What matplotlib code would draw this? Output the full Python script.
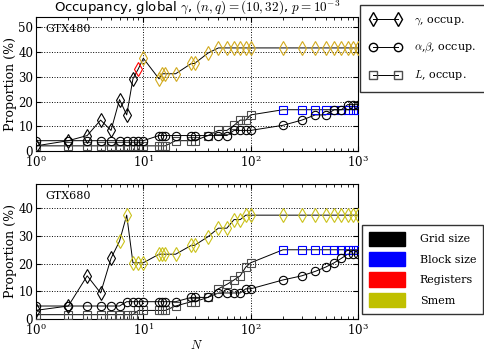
import numpy as np
import matplotlib
matplotlib.use('Agg')
import matplotlib.pyplot as plt
from matplotlib.lines import Line2D
from matplotlib.patches import Patch

plt.rcParams['font.family'] = 'DejaVu Serif'
plt.rcParams['mathtext.fontset'] = 'cm'
plt.rcParams['xtick.direction'] = 'in'
plt.rcParams['ytick.direction'] = 'in'

# problem sizes
N = [1, 2, 3, 4, 5, 6, 7, 8, 9, 10, 14, 15, 16, 20, 28, 30, 40, 50, 60, 70,
     80, 90, 100, 200, 300, 400, 500, 600, 700, 800, 900, 1000]

# GTX480 (percent occupancy)
g480_gamma = [2.08, 4.17, 6.25, 12.5, 8.33, 20.8, 14.6, 29.2, 33.3, 37.5,
              29.2, 31.25, 31.25, 31.25, 35.4, 35.4, 39.6, 41.7, 41.7, 41.7,
              41.7, 41.7, 41.7, 41.7, 41.7, 41.7, 41.7, 41.7, 41.7, 41.7, 41.7, 41.7]
g480_ab = [4.17, 4.17, 4.17, 4.17, 4.17, 4.17, 4.17, 4.17, 4.17, 4.17,
           6.25, 6.25, 6.25, 6.25, 6.25, 6.25, 6.25, 6.25, 6.25, 8.33,
           8.33, 8.33, 8.33, 10.4, 12.5, 14.6, 14.6, 16.7, 16.7, 18.75, 18.75, 18.75]
g480_L = [2.08, 2.08, 2.08, 2.08, 2.08, 2.08, 2.08, 2.08, 2.08, 2.08,
          2.08, 2.08, 2.08, 4.17, 4.17, 4.17, 6.25, 8.33, 8.33, 10.4,
          12.5, 12.5, 14.6, 16.7, 16.7, 16.7, 16.7, 16.7, 16.7, 16.7, 16.7, 16.7]
# limiting factor per point: k grid, b block, r registers, y smem
g480_gamma_lim = 'kkkkkkkkryyyyyyyyyyyyyyyyyyyyyyy'
g480_ab_lim = 'k' * 32
g480_L_lim = 'k' * 23 + 'b' * 9

# GTX680
g680_gamma = [3.125, 4.69, 15.6, 9.4, 21.9, 28.1, 37.5, 20.3, 20.3, 20.3,
              23.4, 23.4, 23.4, 23.4, 26.6, 26.6, 29.7, 32.8, 32.8, 35.9,
              35.9, 37.5, 37.5, 37.5, 37.5, 37.5, 37.5, 37.5, 37.5, 37.5, 37.5, 37.5]
g680_ab = [4.69, 4.69, 4.69, 4.69, 4.69, 4.69, 6.25, 6.25, 6.25, 6.25,
           6.25, 6.25, 6.25, 6.25, 7.8, 7.8, 7.8, 9.4, 9.4, 9.4,
           9.4, 10.9, 10.9, 14.1, 15.6, 17.2, 18.75, 20.3, 21.9, 23.4, 23.4, 23.4]
g680_L = [1.56, 1.56, 1.56, 1.56, 1.56, 1.56, 1.56, 1.56, 3.1, 3.1,
          3.1, 3.1, 3.1, 4.69, 6.25, 6.25, 7.8, 10.9, 12.5, 14.1,
          15.6, 18.75, 20.3, 25.0, 25.0, 25.0, 25.0, 25.0, 25.0, 25.0, 25.0, 25.0]
g680_gamma_lim = 'kkkkkyyyyyyyyyyyyyyyyyyyyyyyyyyy'
g680_ab_lim = 'k' * 32
g680_L_lim = 'k' * 23 + 'b' * 9

colors480 = {'k': 'black', 'b': 'blue', 'r': 'red', 'y': '#d2aa1e'}
colors680 = {'k': 'black', 'b': 'blue', 'r': 'red', 'y': '#cbc21a'}


def draw(ax, gamma, ab, L, lims, cmap, label, yticks):
    for vals, lim, mk, ms in [(L, lims[2], 's', 6), (ab, lims[1], 'o', 6), (gamma, lims[0], 'd', 7)]:
        ax.plot(N, vals, '-', color='k', lw=0.7, zorder=2)
        for c in 'kbry':
            xs = [n for n, l in zip(N, lim) if l == c]
            ys = [v for v, l in zip(vals, lim) if l == c]
            if not xs:
                continue
            ec = cmap[c]
            if mk == 's' and c == 'k':
                ec = '0.3'
            ax.plot(xs, ys, ls='none', marker=mk, ms=ms, mfc='none', mec=ec, mew=0.8, zorder=3)
    ax.set_xscale('log')
    ax.set_xlim(1, 1000)
    ax.set_ylim(0, 1.3 * max(gamma))
    ax.set_yticks(yticks)
    ax.grid(True, which='major', ls=':', color='k', lw=0.7)
    ax.tick_params(which='both', top=True, right=True, labelsize=8.5, pad=2)
    ax.set_ylabel('Proportion (%)', fontsize=9, labelpad=1)
    ax.text(0.03, 0.95, label, transform=ax.transAxes, va='top', ha='left', fontsize=8)


fig = plt.figure(figsize=(4.85, 3.51), dpi=100)
ax1 = fig.add_axes([36 / 485, 1 - 151 / 351, 322 / 485, 134 / 351])
ax2 = fig.add_axes([36 / 485, 1 - 319 / 351, 322 / 485, 135 / 351])

draw(ax1, g480_gamma, g480_ab, g480_L, (g480_gamma_lim, g480_ab_lim, g480_L_lim),
     colors480, 'GTX480', [0, 10, 20, 30, 40, 50])
draw(ax2, g680_gamma, g680_ab, g680_L, (g680_gamma_lim, g680_ab_lim, g680_L_lim),
     colors680, 'GTX680', [0, 10, 20, 30, 40])

ax1.set_title(r'Occupancy, global $\gamma$, $(n,q)=(10,32)$, $p=10^{-3}$',
              fontsize=9.5, family='DejaVu Sans', pad=2)
ax2.set_xlabel(r'$N$', fontsize=9, labelpad=1)

h1 = [Line2D([], [], color='k', lw=0.7, marker='d', ms=7, mfc='none', mec='k'),
      Line2D([], [], color='k', lw=0.7, marker='o', ms=6, mfc='none', mec='k'),
      Line2D([], [], color='k', lw=0.7, marker='s', ms=6, mfc='none', mec='0.3')]
fig.legend(h1, [r'$\gamma$, occup.', r'$\alpha$,$\beta$, occup.', r'$L$, occup.'],
           loc='upper left', bbox_to_anchor=(360 / 485, 1 - 5 / 351), fontsize=8,
           fancybox=False, edgecolor='k', handlelength=2.8, borderpad=0.9,
           labelspacing=1.2, handletextpad=1.2, numpoints=2, borderaxespad=0)

h2 = [Patch(color='black'), Patch(color='blue'), Patch(color='red'), Patch(color='#c0c000')]
fig.legend(h2, ['Grid size', 'Block size', 'Registers', 'Smem'],
           loc='upper left', bbox_to_anchor=(362 / 485, 1 - 225 / 351), fontsize=8,
           fancybox=False, edgecolor='k', handlelength=3.3, handleheight=1.6,
           borderpad=0.6, labelspacing=0.55, handletextpad=1.3, borderaxespad=0)

fig.savefig('out.png', dpi=100)
